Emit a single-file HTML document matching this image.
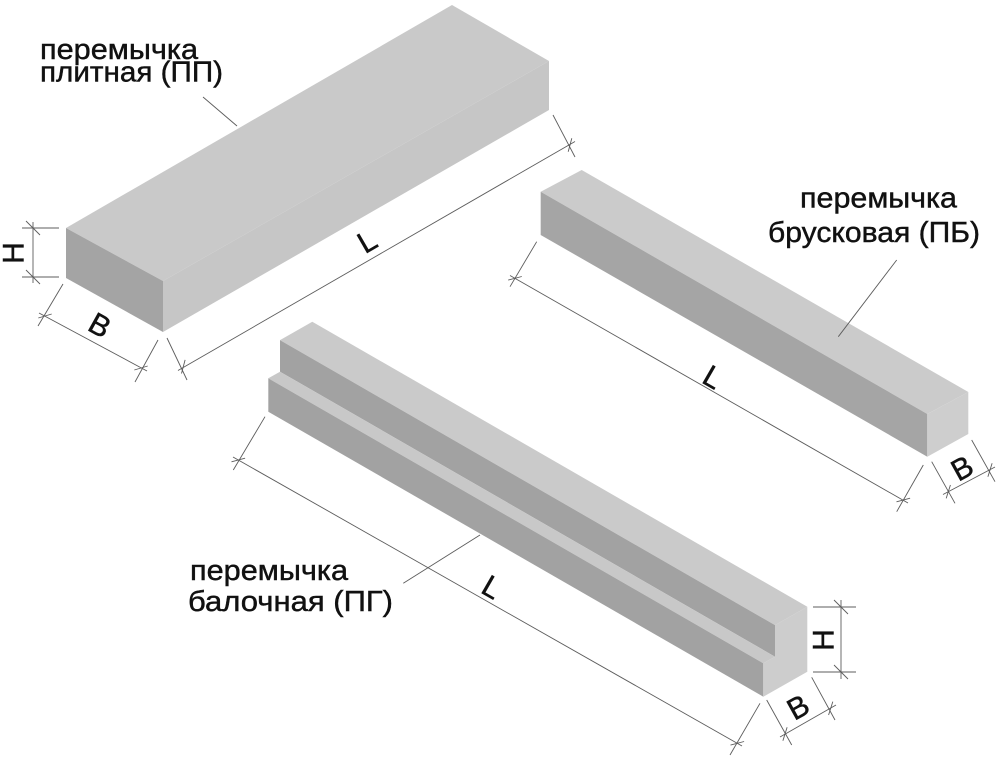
<!DOCTYPE html>
<html><head><meta charset="utf-8"><style>
html,body{margin:0;padding:0;background:#fff;}
svg{display:block;}
text{font-family:"Liberation Sans",Arial,sans-serif;fill:#111;stroke:#111;stroke-width:0.45;}
</style></head><body>
<svg width="1000" height="758" viewBox="0 0 1000 758" xmlns="http://www.w3.org/2000/svg">
<rect width="1000" height="758" fill="#fff"/>

<!-- SLAB (ПП) -->
<polygon points="66,228 452,5 549,61 163,281" fill="#c9c9c9"/>
<polygon points="163,281 549,61 549,110 163,332" fill="#c6c6c6"/>
<polygon points="66,228 163,281 163,332 66,278" fill="#a4a4a4"/>

<!-- RIGHT BEAM (ПБ) -->
<polygon points="540.7,191.7 581.7,170 968.3,392 927.3,414" fill="#cbcbcb"/>
<polygon points="540.7,191.7 927.3,414 927.3,456.7 540.7,235" fill="#a5a5a5"/>
<polygon points="927.3,414 968.3,392 968.3,434 927.3,456.7" fill="#cecece"/>

<!-- BOTTOM BEAM (ПГ) -->
<polygon points="280,340.1 312.3,321.7 807.3,606.7 775,625.1" fill="#cacaca"/>
<polygon points="280,340.1 775,625.1 775,656.7 280,371.7" fill="#a2a2a2"/>
<polygon points="268.3,378.3 280,371.7 775,656.7 763.3,663.3" fill="#c8c8c8"/>
<polygon points="268.3,378.3 763.3,663.3 763.3,696.7 268.3,411.7" fill="#a2a2a2"/>
<polygon points="775,625.1 807.3,606.7 807.3,671.7 763.3,696.7 763.3,663.3 775,656.7" fill="#cdcdcd"/>

<g stroke="#5c5c5c" stroke-width="0.9" fill="none">
<!-- slab H -->
<line x1="22" y1="228" x2="59" y2="228"/>
<line x1="22" y1="277" x2="59" y2="277"/>
<line x1="33" y1="222" x2="33" y2="283"/>
<line x1="26" y1="221" x2="40" y2="235"/>
<line x1="26" y1="270" x2="40" y2="284"/>
<!-- slab B -->
<line x1="63" y1="284" x2="38" y2="326"/>
<line x1="158" y1="340" x2="135" y2="382"/>
<line x1="39" y1="313" x2="147" y2="371"/>
<line x1="38.3" y1="318" x2="51.7" y2="314"/>
<line x1="134.3" y1="370" x2="147.7" y2="366"/>
<!-- slab L -->
<line x1="167" y1="338" x2="187" y2="380"/>
<line x1="553" y1="115" x2="575" y2="157"/>
<line x1="178" y1="370.5" x2="575" y2="141.5"/>
<line x1="181.5" y1="373.5" x2="185.1" y2="359.9"/>
<line x1="568.2" y1="151.8" x2="571.8" y2="138.2"/>
<!-- slab leader -->
<line x1="203" y1="97" x2="237" y2="126"/>

<!-- right beam L -->
<line x1="536.7" y1="241.7" x2="510" y2="286.7"/>
<line x1="923.3" y1="465" x2="896.7" y2="511.7"/>
<line x1="510" y1="275.5" x2="908" y2="503"/>
<line x1="508.2" y1="280.1" x2="521.8" y2="276.5"/>
<line x1="896.5" y1="501.8" x2="910.1" y2="498.2"/>
<!-- right beam B -->
<line x1="931.7" y1="461.7" x2="955" y2="503.3"/>
<line x1="971.7" y1="440" x2="995" y2="481.7"/>
<line x1="943" y1="494.5" x2="995" y2="467"/>
<line x1="946.2" y1="498.4" x2="950.4" y2="485"/>
<line x1="987.9" y1="476.7" x2="992.1" y2="463.3"/>
<!-- right leader -->
<line x1="896.7" y1="260" x2="838.3" y2="336.7"/>

<!-- bottom beam L -->
<line x1="265" y1="416.7" x2="233.3" y2="470"/>
<line x1="760" y1="703.3" x2="730" y2="755"/>
<line x1="233" y1="457" x2="742" y2="746"/>
<line x1="231.5" y1="461.8" x2="245.1" y2="458.2"/>
<line x1="730.5" y1="745.1" x2="744.1" y2="741.5"/>
<!-- bottom beam H -->
<line x1="813" y1="607" x2="856" y2="607"/>
<line x1="813" y1="672" x2="856" y2="672"/>
<line x1="841" y1="600" x2="841" y2="679"/>
<line x1="834" y1="600" x2="848" y2="614"/>
<line x1="834" y1="665" x2="848" y2="679"/>
<!-- bottom beam B -->
<line x1="766.7" y1="700" x2="791.7" y2="745"/>
<line x1="811.7" y1="677.3" x2="835" y2="720"/>
<line x1="780" y1="737" x2="836" y2="705"/>
<line x1="782.9" y1="740.7" x2="787.1" y2="727.3"/>
<line x1="828.6" y1="715" x2="832.8" y2="701.6"/>
<!-- bottom leader -->
<line x1="480" y1="535" x2="403.3" y2="583.3"/>
</g>

<!-- Labels -->
<text x="40" y="59" font-size="29" textLength="158" lengthAdjust="spacingAndGlyphs">перемычка</text>
<text x="40" y="81.5" font-size="29" textLength="183" lengthAdjust="spacingAndGlyphs">плитная (ПП)</text>

<text x="800" y="207.5" font-size="29" textLength="157" lengthAdjust="spacingAndGlyphs">перемычка</text>
<text x="768" y="242" font-size="29" textLength="212" lengthAdjust="spacingAndGlyphs">брусковая (ПБ)</text>

<text x="190" y="580" font-size="29" textLength="158" lengthAdjust="spacingAndGlyphs">перемычка</text>
<text x="188" y="611" font-size="29" textLength="205" lengthAdjust="spacingAndGlyphs">балочная (ПГ)</text>

<!-- Dimension letters -->
<text font-size="30" text-anchor="middle" transform="translate(13,253) rotate(-90) translate(0,10.5)">H</text>
<text font-size="30" text-anchor="middle" transform="translate(100,325) rotate(29) translate(0,10.5)">B</text>
<text font-size="30" text-anchor="middle" transform="translate(367,241) rotate(-30) translate(0,10.5)">L</text>

<text font-size="30" text-anchor="middle" transform="translate(713,377) rotate(30) translate(0,10.5)">L</text>
<text font-size="30" text-anchor="middle" transform="translate(962,468) rotate(-29) translate(0,10.5)">B</text>

<text font-size="30" text-anchor="middle" transform="translate(492,587) rotate(30) translate(0,10.5)">L</text>
<text font-size="30" text-anchor="middle" transform="translate(823,640) rotate(-90) translate(0,10.5)">H</text>
<text font-size="30" text-anchor="middle" transform="translate(798,707) rotate(-29) translate(0,10.5)">B</text>
</svg>
</body></html>
